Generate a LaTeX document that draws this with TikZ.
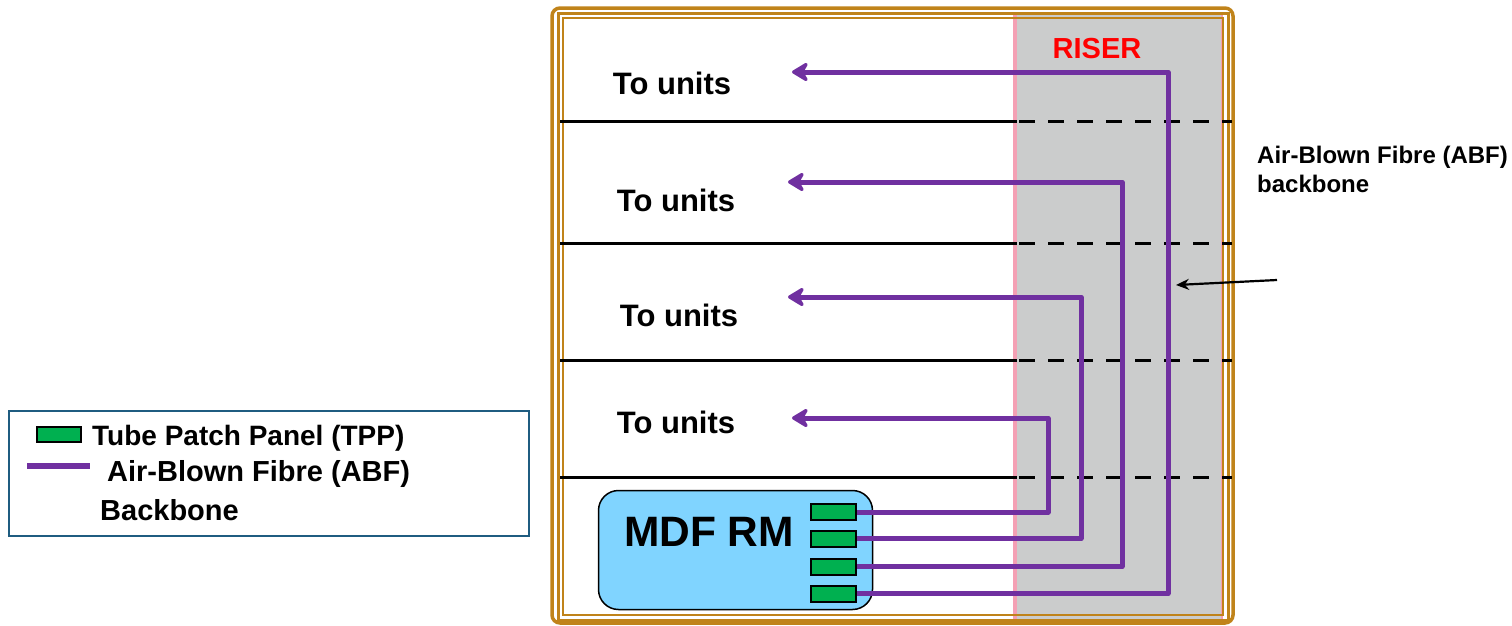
\documentclass[tikz,border=0pt]{standalone}
\usepackage{fontspec}
\setmainfont{Liberation Sans}
\usetikzlibrary{arrows.meta}
\definecolor{framegold}{RGB}{192,131,26}
\definecolor{abfpurple}{RGB}{112,48,160}
\definecolor{tppgreen}{RGB}{0,176,80}
\definecolor{mdfblue}{RGB}{128,212,255}
\definecolor{risergray}{RGB}{203,204,204}
\definecolor{riserpink}{RGB}{244,160,180}
\definecolor{legendblue}{RGB}{31,92,128}
\begin{document}
\begin{tikzpicture}[x=1pt,y=-1pt,
  fibre/.style={draw=abfpurple, line width=5pt, line join=round},
  fibrearrow/.style={fibre, -{Stealth[length=20pt,width=24pt,inset=7pt,round]}},
  floorsolid/.style={line width=3pt, draw=black},
  floordash/.style={line width=3pt, draw=black, dash pattern=on 16pt off 13pt},
  tppbox/.style={draw=black, line width=2pt, fill=tppgreen, minimum width=45pt, minimum height=16pt, inner sep=0pt},
  unitlabel/.style={font=\fontsize{31}{37}\selectfont\bfseries, inner sep=0pt},
  legendtext/.style={font=\fontsize{29}{34}\selectfont\bfseries, inner sep=0pt, anchor=west},
  sidetext/.style={font=\fontsize{24}{29}\selectfont\bfseries, inner sep=0pt, align=left, anchor=north west}]
\useasboundingbox (0,0) rectangle (1512,625);

% riser
\fill[risergray] (1013,15) rectangle (1222,622);
\draw[riserpink, line width=4pt] (1015,15) -- (1015,622);
\draw[riserpink, line width=2pt] (1222,15) -- (1222,622);
\node[font=\fontsize{29}{34}\selectfont\bfseries, text=red, inner sep=0pt] (riser) at (1097,49) {RISER};

% frame
\draw[framegold, line width=3.5pt, rounded corners=8pt] (552,8) rectangle (1233,623);
\draw[framegold, line width=3pt] (558,13) rectangle (1228,620);
\draw[framegold, line width=1.5pt] (563,18) rectangle (1223,615);

% floors
\foreach \yy in {121,243,360,477}{
  \draw[floorsolid] (560,\yy) -- (1017,\yy);
  \draw[floordash] (1019,\yy) -- (1232,\yy);
}

% labels
\node[unitlabel] (u1) at (672,83) {To units};
\node[unitlabel] (u2) at (676,200) {To units};
\node[unitlabel] (u3) at (679,315) {To units};
\node[unitlabel] (u4) at (676,422) {To units};

% MDF room
\node[draw=black, line width=1.5pt, fill=mdfblue, rounded corners=20pt, minimum width=274pt, minimum height=119pt, inner sep=0pt] (mdf) at (735.5,550) {};
\node[font=\fontsize{42.5}{48}\selectfont\bfseries, inner sep=0pt] (mdflabel) at (709,532) {MDF RM};

\node[tppbox] (t1) at (833.5,512) {};
\node[tppbox] (t2) at (833.5,538.5) {};
\node[tppbox] (t3) at (833.5,566.5) {};
\node[tppbox] (t4) at (833.5,593.5) {};

% fibre runs
\coordinate (e1) at (792,418);
\coordinate (e2) at (788,182);
\coordinate (e3) at (788,297);
\coordinate (e4) at (792,72);
\draw[fibrearrow] (t1.east) -- (1048,512) -- (1048,418) -- (e1);
\draw[fibrearrow] (t2.east) -- (1081,538.5) -- (1081,297) -- (e3);
\draw[fibrearrow] (t3.east) -- (1122,566.5) -- (1122,182) -- (e2);
\draw[fibrearrow] (t4.east) -- (1168,593.5) -- (1168,72) -- (e4);

% side label and pointer
\node[sidetext] (side) at (1257,146) {Air-Blown Fibre (ABF)\\backbone};
\coordinate (ptrstart) at (1277,280);
\coordinate (ptrend) at (1176,285);
\draw[line width=2.2pt, -{Stealth[length=13pt,width=11pt]}] (ptrstart) -- (ptrend);

% legend
\node[draw=legendblue, line width=1.5pt, minimum width=520pt, minimum height=125pt, inner sep=0pt] (legend) at (269,473.5) {};
\node[draw=black, line width=2pt, fill=tppgreen, minimum width=44pt, minimum height=15pt, inner sep=0pt] (lgtpp) at (59,434.5) {};
\node[legendtext, font=\fontsize{28}{33}\selectfont\bfseries] (lg1) at (92,438) {Tube Patch Panel (TPP)};
\coordinate (lgA) at (27,466);
\coordinate (lgB) at (90,466);
\draw[abfpurple, line width=6pt] (lgA) -- (lgB);
\node[legendtext] (lg2) at (107,474) {Air-Blown Fibre (ABF)};
\node[legendtext] (lg3) at (100,510) {Backbone};
\end{tikzpicture}
\end{document}
